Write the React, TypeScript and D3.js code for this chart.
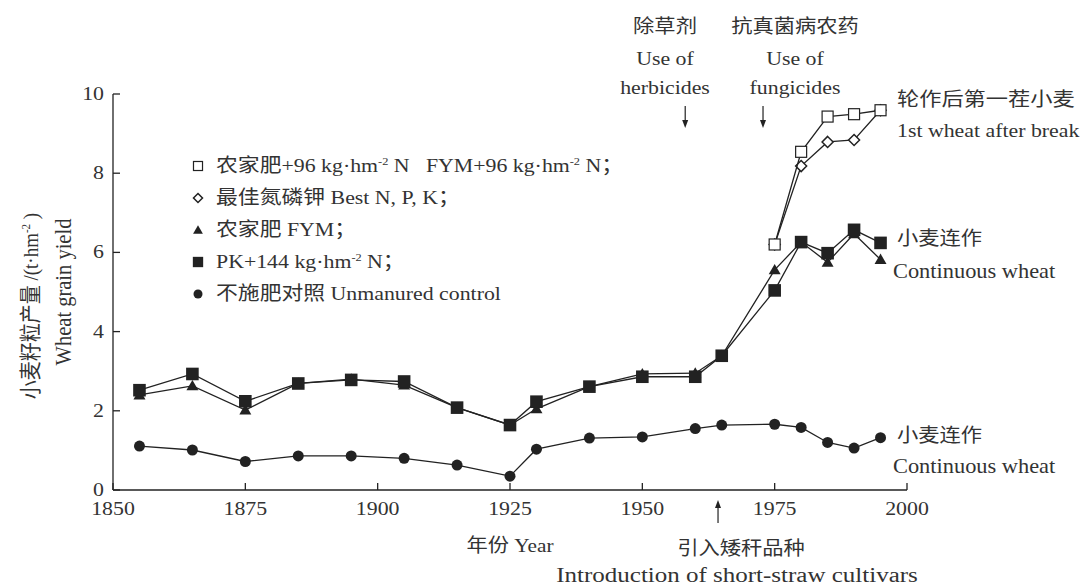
import * as d3 from "d3";

// years of the Broadbalk observations
const years = [1855, 1865, 1875, 1885, 1895, 1905, 1915, 1925, 1930, 1940, 1950, 1960, 1965, 1975, 1980, 1985, 1990, 1995];
const control = [1.11, 1.01, 0.72, 0.86, 0.86, 0.8, 0.63, 0.35, 1.03, 1.31, 1.34, 1.55, 1.64, 1.66, 1.58, 1.2, 1.06, 1.32];
const pk144 = [2.52, 2.93, 2.24, 2.69, 2.78, 2.74, 2.08, 1.64, 2.23, 2.61, 2.86, 2.86, 3.39, 5.04, 6.26, 5.98, 6.57, 6.24];
const fym = [2.4, 2.63, 2.02, 2.69, 2.8, 2.65, 2.08, 1.64, 2.05, 2.61, 2.93, 2.95, 3.39, 5.56, 6.26, 5.75, 6.47, 5.82];

// first wheat after break
const breakYears = [1975, 1980, 1985, 1990, 1995];
const fym96 = [6.2, 8.54, 9.43, 9.49, 9.59];
const bestNPK = [6.2, 8.18, 8.79, 8.84, 9.59];

const xTicks = [1850, 1875, 1900, 1925, 1950, 1975, 2000];
const yTicks = [0, 2, 4, 6, 8, 10];

const FONT = "'Liberation Serif', 'Noto Sans CJK SC', serif";
const INK = "#222";
const TXT = "#333";
const SX = 1.12;

const T = ({ x, y, anchor = "start", size = 19, sx = SX, children }: any) => (
  <text
    transform={`translate(${x},${y}) scale(${sx},1)`}
    textAnchor={anchor}
    fontSize={size}
    fill={TXT}
  >
    {children}
  </text>
);

const Sup = ({ children }: any) => (
  <>
    <tspan dy={-7} fontSize={11}>{children}</tspan>
    <tspan dy={7}> </tspan>
  </>
);

type Kind = "sq" | "osq" | "dia" | "tri" | "dot";

const Marker = ({ kind, x, y, s = 1 }: { kind: Kind; x: number; y: number; s?: number }) => {
  if (kind === "sq") return <rect x={x - 6.3 * s} y={y - 6.3 * s} width={12.6 * s} height={12.6 * s} fill={INK} />;
  if (kind === "osq")
    return <rect x={x - 5.5 * s} y={y - 5.5 * s} width={11 * s} height={11 * s} fill="#fff" stroke={INK} strokeWidth={1.2} />;
  if (kind === "dia")
    return (
      <path
        d={`M${x},${y - 5.5 * s}L${x + 5.5 * s},${y}L${x},${y + 5.5 * s}L${x - 5.5 * s},${y}Z`}
        fill="#fff"
        stroke={INK}
        strokeWidth={1.5}
      />
    );
  if (kind === "tri")
    return <path transform={`translate(${x},${y + 1})`} d={d3.symbol(d3.symbolTriangle, 62 * s * s)()!} fill={INK} />;
  return <circle cx={x} cy={y} r={5.5 * s} fill={INK} />;
};

export default function App() {
  const x = d3.scaleLinear().domain([1850, 2000]).range([113, 907]);
  const y = d3.scaleLinear().domain([0, 10]).range([490, 94]);
  const line = d3
    .line<[number, number]>()
    .x((d) => x(d[0]))
    .y((d) => y(d[1]));

  const series: { xs: number[]; vs: number[]; kind: Kind }[] = [
    { xs: years, vs: control, kind: "dot" },
    { xs: years, vs: fym, kind: "tri" },
    { xs: years, vs: pk144, kind: "sq" },
    { xs: breakYears, vs: bestNPK, kind: "dia" },
    { xs: breakYears, vs: fym96, kind: "osq" },
  ];

  const legend: { kind: Kind; label: any }[] = [
    {
      kind: "osq",
      label: (
        <>
          农家肥+96 kg·hm<Sup>-2</Sup>N{"\u00a0\u00a0\u00a0"}FYM+96 kg·hm<Sup>-2</Sup>N；
        </>
      ),
    },
    { kind: "dia", label: "最佳氮磷钾 Best N, P, K；" },
    { kind: "tri", label: "农家肥 FYM；" },
    { kind: "sq", label: <>PK+144 kg·hm<Sup>-2</Sup>N；</> },
    { kind: "dot", label: "不施肥对照 Unmanured control" },
  ];
  const legendY = d3.scalePoint<number>().domain([0, 1, 2, 3, 4]).range([166, 294]);

  const arrow = (ax: number, y1: number, y2: number) => {
    const dir = Math.sign(y2 - y1);
    return (
      <g>
        <line x1={ax} x2={ax} y1={y1} y2={y2 - dir * 6} stroke={INK} strokeWidth={1.2} />
        <path d={`M${ax - 3},${y2 - dir * 8}L${ax + 3},${y2 - dir * 8}L${ax},${y2}Z`} fill={INK} />
      </g>
    );
  };

  return (
    <div style={{ position: "fixed", left: 0, top: 0 }}>
      <svg width={1082} height={588} fontFamily={FONT} style={{ display: "block", background: "#fff" }}>
        {/* axes */}
        <line x1={x(1850)} x2={x(2000)} y1={y(0)} y2={y(0)} stroke={INK} strokeWidth={1.3} />
        <line x1={x(1850)} x2={x(1850)} y1={y(0)} y2={y(10)} stroke={INK} strokeWidth={1.3} />
        {xTicks.map((t) => (
          <g key={t}>
            <line x1={x(t)} x2={x(t)} y1={y(0)} y2={y(0) - 7} stroke={INK} strokeWidth={1.3} />
            <T x={x(t)} y={515} anchor="middle" size={19.5}>
              {t}
            </T>
          </g>
        ))}
        {yTicks.map((t) => (
          <g key={t}>
            <line x1={x(1850)} x2={x(1850) + 7} y1={y(t)} y2={y(t)} stroke={INK} strokeWidth={1.3} />
            <T x={104} y={y(t) + 6} anchor="end" size={19.5}>
              {t}
            </T>
          </g>
        ))}

        {/* axis titles */}
        <text transform="translate(38,306) rotate(-90) scale(1,1.12)" textAnchor="middle" fontSize={19} fill={TXT}>
          小麦籽粒产量 /(t·hm<Sup>-2</Sup>)
        </text>
        <text transform="translate(71,292) rotate(-90) scale(1,1.12)" textAnchor="middle" fontSize={20.5} fill={TXT}>
          Wheat grain yield
        </text>
        <T x={510} y={552} anchor="middle">
          年份 Year
        </T>

        {/* series */}
        {series.map((s, i) => {
          const pts = s.xs.map((yr, j) => [yr, s.vs[j]] as [number, number]);
          return (
            <g key={i}>
              <path d={line(pts)!} fill="none" stroke={INK} strokeWidth={1.3} />
              {pts.map((p, j) => (
                <Marker key={j} kind={s.kind} x={x(p[0])} y={y(p[1])} />
              ))}
            </g>
          );
        })}

        {/* legend */}
        {legend.map((l, i) => (
          <g key={i}>
            <Marker kind={l.kind} x={198} y={legendY(i)!} s={0.82} />
            <T x={216} y={legendY(i)! + 6} size={19.5}>
              {l.label}
            </T>
          </g>
        ))}

        {/* annotations */}
        <T x={665} y={33} anchor="middle">除草剂</T>
        <T x={665} y={65} anchor="middle" size={19.5}>Use of</T>
        <T x={665} y={94} anchor="middle" size={19.5}>herbicides</T>
        <T x={795} y={33} anchor="middle">抗真菌病农药</T>
        <T x={795} y={65} anchor="middle" size={19.5}>Use of</T>
        <T x={795} y={94} anchor="middle" size={19.5}>fungicides</T>
        {arrow(x(1958.1), 106, 128)}
        {arrow(x(1972.8), 106, 128)}
        {arrow(x(1964.3), 523, 500)}
        <T x={741} y={555} anchor="middle">引入矮秆品种</T>
        <T x={737} y={582} anchor="middle" size={20} sx={1.25}>Introduction of short-straw cultivars</T>

        <T x={897} y={106} sx={1.17}>轮作后第一茬小麦</T>
        <T x={897} y={137} size={19.5}>1st wheat after break</T>
        <T x={897} y={245}>小麦连作</T>
        <T x={893} y={278} size={20}>Continuous wheat</T>
        <T x={897} y={442}>小麦连作</T>
        <T x={893} y={473} size={20}>Continuous wheat</T>
      </svg>
    </div>
  );
}
